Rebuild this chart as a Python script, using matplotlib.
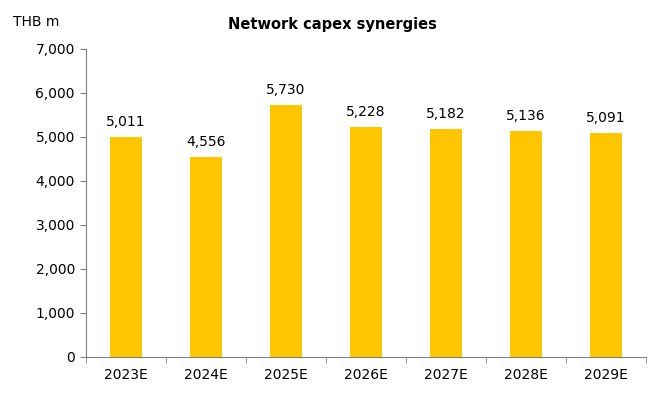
import numpy as np
import matplotlib.pyplot as plt

years = ['2023E', '2024E', '2025E', '2026E', '2027E', '2028E', '2029E']
values = [5011, 4556, 5730, 5228, 5182, 5136, 5091]
yticks = [0, 1000, 2000, 3000, 4000, 5000, 6000, 7000]

fig = plt.figure(figsize=(6.72, 3.96), dpi=100)
ax = fig.add_axes([86 / 672, 1 - 357 / 396, 560 / 672, 308 / 396])

x = np.arange(len(years))
ax.bar(x, values, width=0.4, color='#FFC600')
for xi, v in zip(x, values):
    ax.text(xi, v + 180, f'{v:,}', ha='center', va='bottom', fontsize=10)

ax.set_xlim(-0.5, len(years) - 0.5)
ax.set_ylim(0, 7000)
ax.set_yticks(yticks)
ax.set_yticklabels([f'{t:,}' for t in yticks], fontsize=10)
ax.set_xticks(x)
ax.set_xticklabels(years, fontsize=10)
ax.tick_params(axis='x', length=0, pad=8)
ax.set_xticks(np.arange(-0.5, len(years)), minor=True)
ax.tick_params(axis='x', which='minor', length=4, color='#808080')
ax.tick_params(axis='y', length=4, color='#808080', pad=4)

for s in ['top', 'right']:
    ax.spines[s].set_visible(False)
for s in ['left', 'bottom']:
    ax.spines[s].set_color('#808080')

fig.text(0.495, 1 - 24 / 396, 'Network capex synergies', ha='center', va='center',
         fontsize=10.5, fontweight='bold')
fig.text(13 / 672, 1 - 22 / 396, 'THB m', ha='left', va='center', fontsize=10)

fig.savefig('out.png', dpi=100)
